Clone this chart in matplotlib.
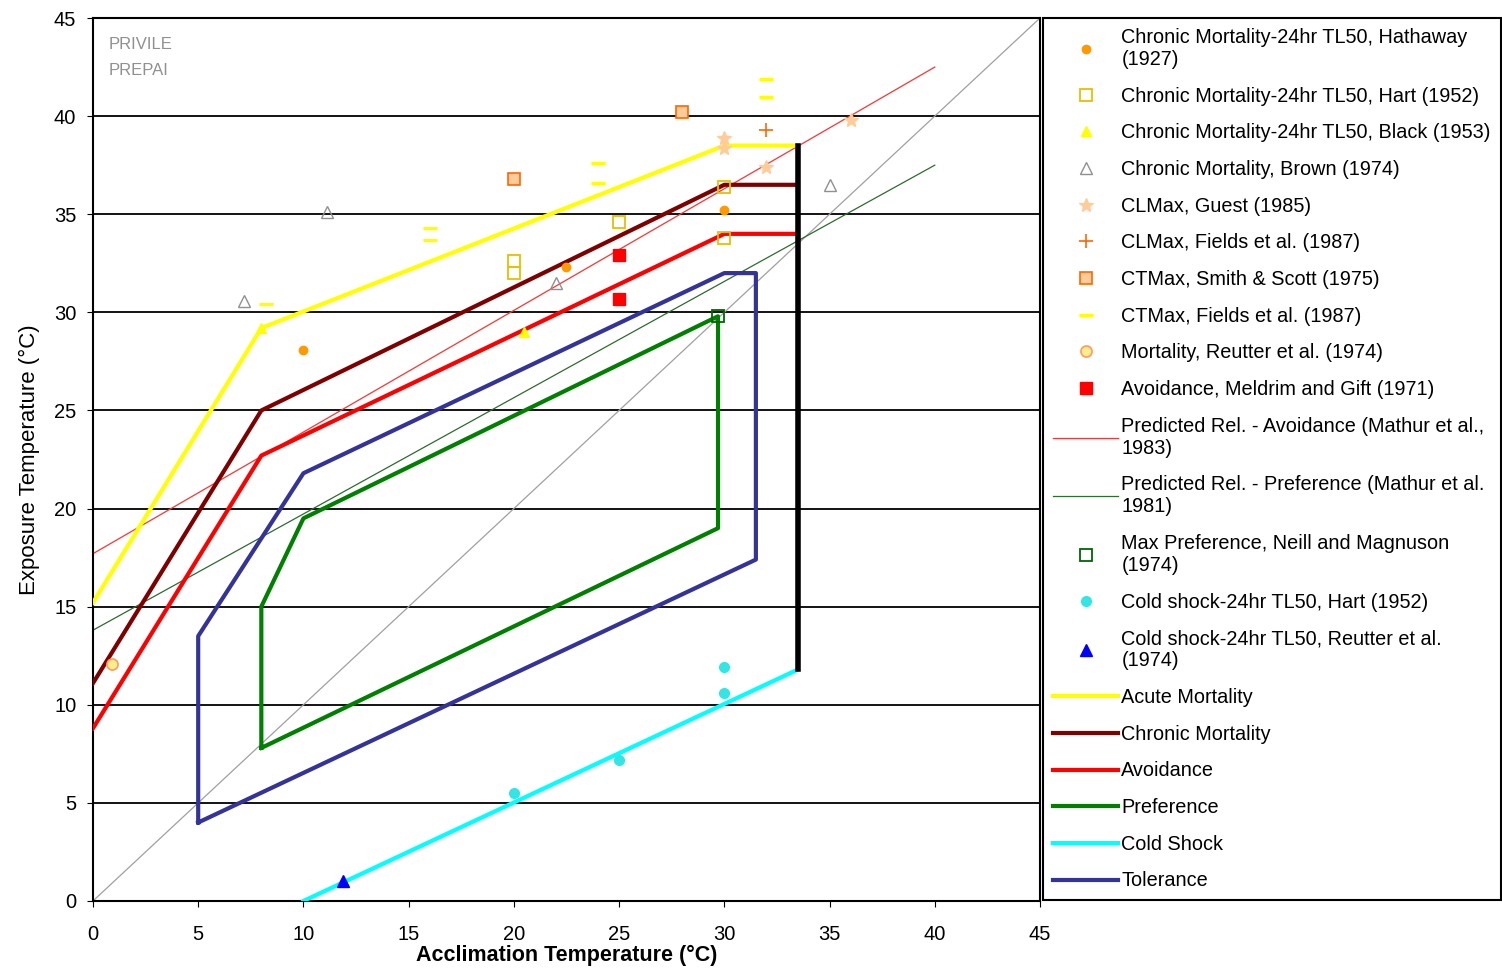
import matplotlib
matplotlib.use('Agg')
import matplotlib.pyplot as plt

plt.rcParams['font.family'] = ['Liberation Sans', 'DejaVu Sans']

# response bands (acclimation temp, exposure temp)
acute_x = [0, 8, 30, 33.5]
acute_y = [15.2, 29.2, 38.5, 38.5]
chronic_x = [0, 8, 30, 33.5]
chronic_y = [11.1, 25.0, 36.5, 36.5]
avoid_x = [0, 8, 30, 33.5]
avoid_y = [8.8, 22.7, 34.0, 34.0]
pref_x = [8, 8, 10, 29.7, 29.7, 8]
pref_y = [7.8, 15.0, 19.5, 29.8, 19.0, 7.8]
coldline_x = [10, 33.5]
coldline_y = [0, 11.8]
tol_x = [5, 5, 10, 30, 31.5, 31.5, 5]
tol_y = [4.0, 13.5, 21.8, 32.0, 32.0, 17.4, 4.0]
limit_x = [33.5, 33.5]
limit_y = [11.8, 38.5]

# predicted relationships and 1:1 line
pred_avoid_x = [0, 40]
pred_avoid_y = [17.7, 42.5]
pred_pref_x = [0, 40]
pred_pref_y = [13.8, 37.5]
diag_x = [0, 45]
diag_y = [0, 45]

# literature points
hathaway_x = [10, 22.5, 30]
hathaway_y = [28.1, 32.3, 35.2]
hart_x = [20, 20, 25, 30, 30]
hart_y = [32.6, 32.0, 34.6, 36.4, 33.8]
black_x = [8, 20.5]
black_y = [29.2, 29.0]
brown_x = [7.2, 11.1, 22, 35]
brown_y = [30.6, 35.1, 31.5, 36.5]
guest_x = [30, 30, 36, 32]
guest_y = [38.9, 38.4, 39.8, 37.4]
fields_cl_x = [32]
fields_cl_y = [39.3]
smith_x = [20, 28]
smith_y = [36.8, 40.2]
fields_ct_x = [8.2, 16, 16, 24, 24, 32, 32]
fields_ct_y = [30.4, 34.3, 33.7, 37.6, 36.6, 41.9, 41.0]
reutter_x = [0.9]
reutter_y = [12.1]
meldrim_x = [25, 25]
meldrim_y = [32.9, 30.7]
neill_x = [29.7]
neill_y = [29.8]
coldhart_x = [20, 25, 30, 30]
coldhart_y = [5.5, 7.2, 10.6, 11.9]
coldreutter_x = [11.9]
coldreutter_y = [1.0]

fig = plt.figure(figsize=(15.02, 9.69), dpi=100)
ax = fig.add_axes([0.0619, 0.0702, 0.6305, 0.9112])

for yv in range(5, 45, 5):
    ax.axhline(yv, color='black', lw=1.3, zorder=1)

ax.plot(diag_x, diag_y, color='#a0a0a0', lw=0.9, zorder=2)
h_pa, = ax.plot(pred_avoid_x, pred_avoid_y, color='#ff3333', lw=0.9, zorder=2)
h_pp, = ax.plot(pred_pref_x, pred_pref_y, color='#2e6b2e', lw=0.9, zorder=2)

h_acute, = ax.plot(acute_x, acute_y, color='#ffff00', lw=3, zorder=3)
h_chron, = ax.plot(chronic_x, chronic_y, color='#800000', lw=3, zorder=3)
h_avoid, = ax.plot(avoid_x, avoid_y, color='#ff0000', lw=3, zorder=3)
h_pref, = ax.plot(pref_x, pref_y, color='#008000', lw=3, zorder=3)
h_cold, = ax.plot(coldline_x, coldline_y, color='#00ffff', lw=3, zorder=3)
h_tol, = ax.plot(tol_x, tol_y, color='#333399', lw=3, zorder=3)
ax.plot(limit_x, limit_y, color='black', lw=4, zorder=4)

mk = dict(ls='none', zorder=5)
h1, = ax.plot(hathaway_x, hathaway_y, marker='o', ms=6, color='#ff9900', **mk)
h2, = ax.plot(hart_x, hart_y, marker='s', ms=8, mfc='none', mec='#e6c000', mew=1.3, **mk)
h3, = ax.plot(black_x, black_y, marker='^', ms=7, color='#ffff00', **mk)
h4, = ax.plot(brown_x, brown_y, marker='^', ms=8, mfc='none', mec='#909090', mew=1, **mk)
h5, = ax.plot(guest_x, guest_y, marker='*', ms=10, color='#ffcc99', **mk)
h6, = ax.plot(fields_cl_x, fields_cl_y, marker='+', ms=10, color='#ff6600', mew=1.2, **mk)
h7, = ax.plot(smith_x, smith_y, marker='s', ms=8, mfc='#ffcc99', mec='#ff6600', mew=1.2, **mk)
h8, = ax.plot(fields_ct_x, fields_ct_y, marker='_', ms=10, color='#ffff00', mew=2.5, **mk)
h9, = ax.plot(reutter_x, reutter_y, marker='o', ms=8, mfc='#ffee88', mec='#ff9966', mew=1.2, **mk)
h10, = ax.plot(meldrim_x, meldrim_y, marker='s', ms=9, color='#ff0000', **mk)
h11, = ax.plot(neill_x, neill_y, marker='s', ms=8, mfc='none', mec='#006600', mew=1.3, **mk)
h12, = ax.plot(coldhart_x, coldhart_y, marker='o', ms=7, color='#33e6e6', **mk)
h13, = ax.plot(coldreutter_x, coldreutter_y, marker='^', ms=8, color='#0000ff', **mk)

ax.set_xlim(0, 45)
ax.set_ylim(0, 45)
ax.set_xticks(range(0, 46, 5))
ax.set_yticks(range(0, 46, 5))
ax.tick_params(direction='out', length=4, labelsize=14.5)
ax.tick_params(axis='x', pad=13)
ax.tick_params(axis='y', pad=8)
for s in ax.spines.values():
    s.set_linewidth(1.5)
ax.set_xlabel('Acclimation Temperature (°C)', fontsize=15.5, fontweight='bold', labelpad=1)
ax.set_ylabel('Exposure Temperature (°C)', fontsize=16, labelpad=10)

ax.text(0.016, 0.978, 'PRIVILE\nPREPAI', transform=ax.transAxes, va='top', ha='left',
        fontsize=12, color='#909090', linespacing=1.9)

handles = [h1, h2, h3, h4, h5, h6, h7, h8, h9, h10, h_pa, h_pp, h11, h12, h13,
           h_acute, h_chron, h_avoid, h_pref, h_cold, h_tol]
labels = ['Chronic Mortality-24hr TL50, Hathaway\n(1927)',
          'Chronic Mortality-24hr TL50, Hart (1952)',
          'Chronic Mortality-24hr TL50, Black (1953)',
          'Chronic Mortality, Brown (1974)',
          'CLMax, Guest (1985)',
          'CLMax, Fields et al. (1987)',
          'CTMax, Smith & Scott (1975)',
          'CTMax, Fields et al. (1987)',
          'Mortality, Reutter et al. (1974)',
          'Avoidance, Meldrim and Gift (1971)',
          'Predicted Rel. - Avoidance (Mathur et al.,\n1983)',
          'Predicted Rel. - Preference (Mathur et al.\n1981)',
          'Max Preference, Neill and Magnuson\n(1974)',
          'Cold shock-24hr TL50, Hart (1952)',
          'Cold shock-24hr TL50, Reutter et al.\n(1974)',
          'Acute Mortality',
          'Chronic Mortality',
          'Avoidance',
          'Preference',
          'Cold Shock',
          'Tolerance']
leg = fig.legend(handles, labels, loc='upper left', bbox_to_anchor=(0.6944, 0.9814),
                 fontsize=14.3, handlelength=3.3, handletextpad=0.15, labelspacing=0.89,
                 borderpad=0.5, borderaxespad=0, fancybox=False, framealpha=1,
                 edgecolor='black')
leg.get_frame().set_linewidth(1.5)

fig.savefig('out.png', dpi=100)
